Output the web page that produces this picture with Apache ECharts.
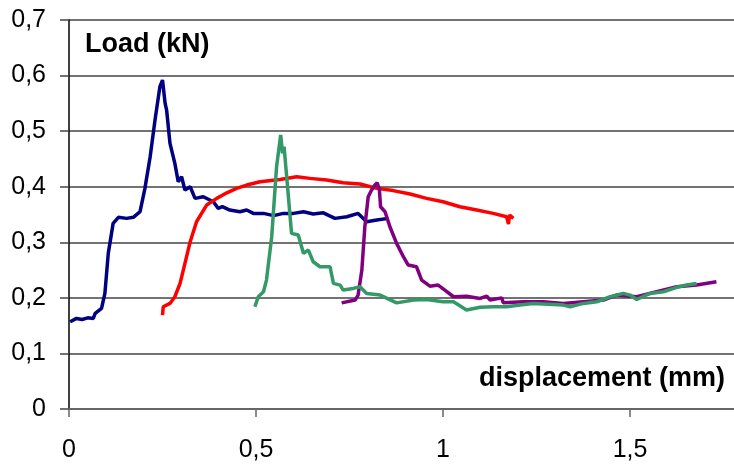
<!DOCTYPE html>
<html>
<head>
<meta charset="utf-8">
<script src="https://cdn.jsdelivr.net/npm/echarts@6/dist/echarts.min.js"></script>
<style>
  html, body { margin: 0; padding: 0; background: #fff; }
  #chart { width: 734px; height: 464px; }
</style>
</head>
<body>
<div id="chart"></div>
<script>
// displacement (mm) / load (kN)
const navyX = [0.003,0.02,0.035,0.05,0.065,0.07,0.087,0.096,0.105,0.118,0.132,0.154,0.172,0.19,0.203,0.217,0.23,0.243,0.25,0.257,0.261,0.27,0.283,0.292,0.301,0.31,0.324,0.337,0.359,0.386,0.399,0.41,0.43,0.457,0.475,0.493,0.52,0.547,0.573,0.6,0.627,0.653,0.68,0.711,0.743,0.773,0.796,0.823,0.854]
const navyY = [0.157,0.163,0.161,0.164,0.163,0.172,0.181,0.208,0.28,0.334,0.345,0.343,0.345,0.355,0.397,0.454,0.52,0.58,0.592,0.55,0.538,0.478,0.442,0.409,0.418,0.394,0.4,0.379,0.382,0.373,0.361,0.364,0.358,0.355,0.358,0.352,0.352,0.348,0.352,0.352,0.355,0.351,0.353,0.343,0.346,0.352,0.337,0.34,0.343]

const redX = [0.25,0.252,0.27,0.283,0.297,0.31,0.324,0.341,0.368,0.395,0.422,0.448,0.475,0.511,0.564,0.609,0.644,0.689,0.733,0.778,0.823,0.867,0.912,0.956,1.0,1.045,1.09,1.134,1.17,1.175,1.178,1.188]
const redY = [0.169,0.184,0.19,0.202,0.226,0.262,0.301,0.337,0.367,0.379,0.389,0.397,0.403,0.409,0.413,0.418,0.415,0.412,0.407,0.405,0.397,0.393,0.387,0.379,0.373,0.364,0.358,0.352,0.346,0.333,0.349,0.343]

const purpleX = [0.729,0.765,0.773,0.783,0.791,0.8,0.809,0.818,0.824,0.83,0.833,0.845,0.858,0.876,0.894,0.907,0.929,0.943,0.965,0.987,1.005,1.028,1.063,1.099,1.117,1.126,1.157,1.161,1.215,1.268,1.322,1.375,1.429,1.464,1.518,1.571,1.625,1.678,1.731]
const purpleY = [0.191,0.196,0.205,0.25,0.328,0.382,0.394,0.403,0.407,0.394,0.364,0.355,0.328,0.298,0.274,0.259,0.256,0.232,0.221,0.223,0.214,0.202,0.203,0.199,0.203,0.196,0.2,0.191,0.193,0.193,0.19,0.193,0.196,0.205,0.202,0.211,0.22,0.223,0.229]

const greenX = [0.497,0.506,0.52,0.528,0.542,0.555,0.566,0.571,0.575,0.582,0.595,0.613,0.627,0.64,0.653,0.671,0.698,0.707,0.725,0.733,0.76,0.778,0.796,0.832,0.876,0.921,0.956,1.0,1.028,1.063,1.099,1.134,1.17,1.206,1.241,1.322,1.34,1.375,1.411,1.447,1.482,1.5,1.518,1.553,1.589,1.625,1.651,1.678]
const greenY = [0.184,0.202,0.211,0.232,0.31,0.436,0.493,0.46,0.472,0.418,0.316,0.313,0.28,0.286,0.265,0.256,0.256,0.226,0.223,0.214,0.217,0.22,0.208,0.205,0.191,0.196,0.197,0.193,0.193,0.178,0.183,0.184,0.184,0.187,0.19,0.187,0.184,0.19,0.193,0.202,0.208,0.205,0.197,0.208,0.211,0.219,0.223,0.226]

const yTicks = { min: 0, max: 0.7, interval: 0.1 }
const xTicks = { min: 0, max: 1.778, interval: 0.5 }

function pairs(xs, ys) {
  return xs.map((x, i) => [x, ys[i]])
}
function comma(v) {
  return String(+v.toFixed(1)).replace('.', ',')
}

const chart = echarts.init(document.getElementById('chart'))
const lineSeries = (data, color) => ({
  type: 'line',
  data: data,
  showSymbol: false,
  symbol: 'none',
  lineStyle: { color: color, width: 3.5 },
  itemStyle: { color: color }
})

chart.setOption({
  animation: false,
  backgroundColor: '#fff',
  grid: { left: 69, top: 20, right: 0, bottom: 55 },
  xAxis: {
    type: 'value',
    min: xTicks.min,
    max: xTicks.max,
    interval: xTicks.interval,
    axisLine: { show: true, lineStyle: { color: '#666', width: 2 } },
    axisTick: { show: true, length: 8, lineStyle: { color: '#666', width: 1.5 } },
    axisLabel: {
      showMaxLabel: false,
      margin: 29,
      fontFamily: 'Liberation Sans, Arial, sans-serif',
      fontSize: 25,
      color: '#000',
      formatter: v => (Math.abs(v / 0.5 - Math.round(v / 0.5)) < 1e-6 ? comma(v) : '')
    },
    splitLine: { show: false }
  },
  yAxis: {
    type: 'value',
    min: yTicks.min,
    max: yTicks.max,
    interval: yTicks.interval,
    axisLine: { show: true, lineStyle: { color: '#000', width: 1.5 } },
    axisTick: { show: true, length: 9, lineStyle: { color: '#444', width: 1.5 } },
    axisLabel: {
      margin: 23,
      fontFamily: 'Liberation Sans, Arial, sans-serif',
      fontSize: 25,
      color: '#000',
      formatter: v => comma(v)
    },
    splitLine: { show: true, lineStyle: { color: '#444', width: 1.5 } }
  },
  graphic: [
    {
      type: 'text', left: 85, top: 31,
      style: { text: 'Load (kN)', font: 'bold 27px Liberation Sans, Arial, sans-serif', fill: '#000' }
    },
    {
      type: 'text', left: 479, top: 365,
      style: { text: 'displacement (mm)', font: 'bold 27px Liberation Sans, Arial, sans-serif', fill: '#000' }
    }
  ],
  series: [
    lineSeries(pairs(navyX, navyY), '#000080'),
    lineSeries(pairs(redX, redY), '#ff0000'),
    lineSeries(pairs(purpleX, purpleY), '#800080'),
    lineSeries(pairs(greenX, greenY), '#339966')
  ]
})
</script>
</body>
</html>
